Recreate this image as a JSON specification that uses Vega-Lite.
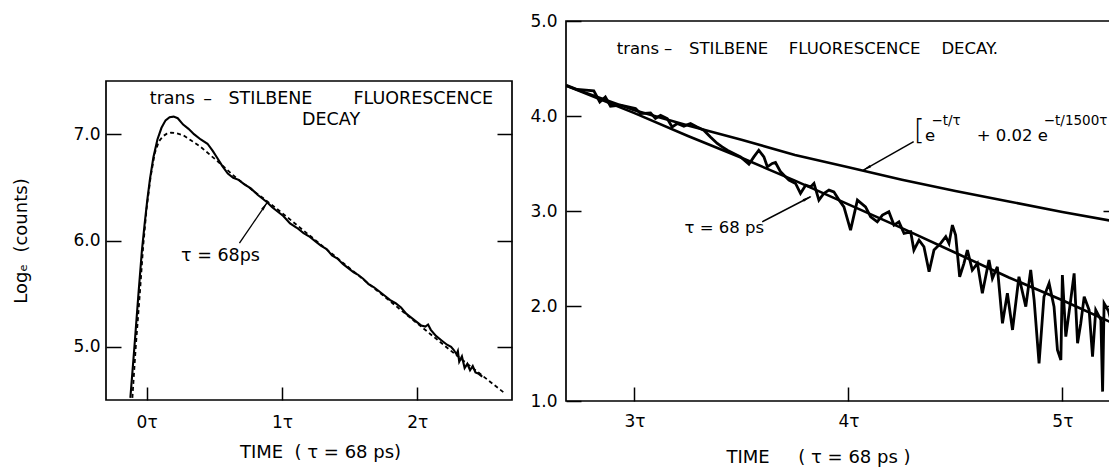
{
  "$schema": "https://vega.github.io/schema/vega-lite/v6.json",
  "padding": {"left": 12, "top": 11, "right": 0, "bottom": 0},
  "background": "white",
  "spacing": 15,
  "config": {
    "font": "DejaVu Sans",
    "view": {"stroke": "black", "strokeWidth": 1.7},
    "axis": {
      "grid": false,
      "labelFont": "DejaVu Sans",
      "labelFontSize": 17,
      "labelColor": "black",
      "titleFont": "DejaVu Sans",
      "titleFontSize": 18,
      "titleFontWeight": "normal",
      "titleColor": "black",
      "domainColor": "black",
      "domainWidth": 1.8,
      "tickColor": "black",
      "tickWidth": 1.5
    }
  },
  "datasets": {
    "spacer": [{"k": 1}],
    "leftData": [
      {"t": -0.12, "v": 4.52}, {"t": -0.09, "v": 5.0}, {"t": -0.06, "v": 5.5}, {"t": -0.035, "v": 5.9}, {"t": -0.015, "v": 6.15},
      {"t": 0.005, "v": 6.38}, {"t": 0.025, "v": 6.58}, {"t": 0.05, "v": 6.78}, {"t": 0.08, "v": 6.95}, {"t": 0.11, "v": 7.06},
      {"t": 0.14, "v": 7.13}, {"t": 0.17, "v": 7.16}, {"t": 0.2, "v": 7.165}, {"t": 0.23, "v": 7.15}, {"t": 0.27, "v": 7.09},
      {"t": 0.31, "v": 7.05}, {"t": 0.35, "v": 7.0}, {"t": 0.4, "v": 6.95}, {"t": 0.45, "v": 6.91}, {"t": 0.49, "v": 6.84},
      {"t": 0.52, "v": 6.78}, {"t": 0.56, "v": 6.7}, {"t": 0.6, "v": 6.63}, {"t": 0.64, "v": 6.59}, {"t": 0.68, "v": 6.57},
      {"t": 0.72, "v": 6.53}, {"t": 0.77, "v": 6.49}, {"t": 0.82, "v": 6.43}, {"t": 0.86, "v": 6.39}, {"t": 0.89, "v": 6.36},
      {"t": 0.93, "v": 6.31}, {"t": 0.97, "v": 6.27}, {"t": 1.01, "v": 6.23}, {"t": 1.06, "v": 6.16}, {"t": 1.11, "v": 6.12},
      {"t": 1.16, "v": 6.07}, {"t": 1.2, "v": 6.04}, {"t": 1.25, "v": 5.99}, {"t": 1.29, "v": 5.95}, {"t": 1.33, "v": 5.92},
      {"t": 1.37, "v": 5.86}, {"t": 1.41, "v": 5.83}, {"t": 1.45, "v": 5.78}, {"t": 1.49, "v": 5.74}, {"t": 1.53, "v": 5.7},
      {"t": 1.56, "v": 5.68}, {"t": 1.6, "v": 5.64}, {"t": 1.64, "v": 5.59}, {"t": 1.68, "v": 5.56}, {"t": 1.72, "v": 5.52},
      {"t": 1.76, "v": 5.48}, {"t": 1.8, "v": 5.44}, {"t": 1.84, "v": 5.41}, {"t": 1.88, "v": 5.37}, {"t": 1.92, "v": 5.31},
      {"t": 1.96, "v": 5.27}, {"t": 2.0, "v": 5.23}, {"t": 2.03, "v": 5.2}, {"t": 2.06, "v": 5.19}, {"t": 2.08, "v": 5.21},
      {"t": 2.1, "v": 5.16}, {"t": 2.14, "v": 5.1}, {"t": 2.18, "v": 5.06}, {"t": 2.22, "v": 5.02}, {"t": 2.25, "v": 5.0},
      {"t": 2.27, "v": 4.97}, {"t": 2.29, "v": 4.93}, {"t": 2.3, "v": 4.96}, {"t": 2.31, "v": 4.86}, {"t": 2.33, "v": 4.91},
      {"t": 2.35, "v": 4.8}, {"t": 2.37, "v": 4.84}, {"t": 2.39, "v": 4.78}, {"t": 2.41, "v": 4.82}, {"t": 2.43, "v": 4.76},
      {"t": 2.45, "v": 4.75}, {"t": 2.48, "v": 4.72}
    ],
    "leftFit": [
      {"t": -0.105, "v": 4.52}, {"t": -0.08, "v": 5.0}, {"t": -0.05, "v": 5.5}, {"t": -0.025, "v": 5.95}, {"t": 0.0, "v": 6.3},
      {"t": 0.03, "v": 6.6}, {"t": 0.06, "v": 6.82}, {"t": 0.09, "v": 6.93}, {"t": 0.12, "v": 6.98}, {"t": 0.15, "v": 7.005},
      {"t": 0.18, "v": 7.015}, {"t": 0.22, "v": 7.01}, {"t": 0.27, "v": 6.99}, {"t": 0.33, "v": 6.94}, {"t": 0.4, "v": 6.88},
      {"t": 0.52, "v": 6.75}, {"t": 0.67, "v": 6.58}, {"t": 0.87, "v": 6.39}, {"t": 1.0, "v": 6.26}, {"t": 1.5, "v": 5.74},
      {"t": 2.0, "v": 5.22}, {"t": 2.3, "v": 4.91}, {"t": 2.65, "v": 4.56}
    ],
    "leftArrow": [{"t": 0.686, "v": 5.975, "t2": 0.889, "v2": 6.354}],
    "leftHead": [{"t": 0.868, "v": 6.315}],
    "leftText": [
      {"t": 0.19, "v": 7.33, "label": "trans"},
      {"t": 0.45, "v": 7.33, "label": "–"},
      {"t": 0.915, "v": 7.33, "label": "STILBENE"},
      {"t": 2.044, "v": 7.33, "label": "FLUORESCENCE"},
      {"t": 1.363, "v": 7.13, "label": "DECAY"},
      {"t": 0.546, "v": 5.85, "label": "τ = 68ps"}
    ],
    "rightData": [
      {"t": 2.682, "v": 4.324}, {"t": 2.732, "v": 4.279}, {"t": 2.81, "v": 4.264}, {"t": 2.838, "v": 4.148}, {"t": 2.864, "v": 4.201},
      {"t": 2.888, "v": 4.103}, {"t": 2.935, "v": 4.114}, {"t": 3.005, "v": 4.079}, {"t": 3.028, "v": 4.026}, {"t": 3.075, "v": 4.033},
      {"t": 3.098, "v": 3.974}, {"t": 3.122, "v": 4.008}, {"t": 3.153, "v": 3.974}, {"t": 3.176, "v": 3.885}, {"t": 3.2, "v": 3.921},
      {"t": 3.231, "v": 3.893}, {"t": 3.262, "v": 3.921}, {"t": 3.293, "v": 3.885}, {"t": 3.324, "v": 3.851}, {"t": 3.355, "v": 3.78},
      {"t": 3.387, "v": 3.711}, {"t": 3.41, "v": 3.675}, {"t": 3.434, "v": 3.64}, {"t": 3.464, "v": 3.606}, {"t": 3.496, "v": 3.57},
      {"t": 3.535, "v": 3.493}, {"t": 3.558, "v": 3.57}, {"t": 3.581, "v": 3.64}, {"t": 3.605, "v": 3.57}, {"t": 3.621, "v": 3.465},
      {"t": 3.644, "v": 3.501}, {"t": 3.659, "v": 3.511}, {"t": 3.683, "v": 3.412}, {"t": 3.722, "v": 3.325}, {"t": 3.753, "v": 3.29},
      {"t": 3.776, "v": 3.185}, {"t": 3.8, "v": 3.272}, {"t": 3.823, "v": 3.254}, {"t": 3.839, "v": 3.29}, {"t": 3.862, "v": 3.115},
      {"t": 3.885, "v": 3.185}, {"t": 3.909, "v": 3.22}, {"t": 3.932, "v": 3.202}, {"t": 3.956, "v": 3.115}, {"t": 3.979, "v": 3.044},
      {"t": 4.01, "v": 2.799}, {"t": 4.042, "v": 3.115}, {"t": 4.08, "v": 3.044}, {"t": 4.104, "v": 2.939}, {"t": 4.135, "v": 2.886},
      {"t": 4.159, "v": 2.957}, {"t": 4.189, "v": 2.992}, {"t": 4.213, "v": 2.852}, {"t": 4.236, "v": 2.886}, {"t": 4.26, "v": 2.764},
      {"t": 4.291, "v": 2.781}, {"t": 4.306, "v": 2.589}, {"t": 4.33, "v": 2.694}, {"t": 4.353, "v": 2.624}, {"t": 4.377, "v": 2.361},
      {"t": 4.4, "v": 2.589}, {"t": 4.431, "v": 2.659}, {"t": 4.455, "v": 2.729}, {"t": 4.47, "v": 2.659}, {"t": 4.486, "v": 2.852},
      {"t": 4.501, "v": 2.747}, {"t": 4.52, "v": 2.308}, {"t": 4.54, "v": 2.449}, {"t": 4.556, "v": 2.589}, {"t": 4.579, "v": 2.379},
      {"t": 4.603, "v": 2.449}, {"t": 4.626, "v": 2.134}, {"t": 4.657, "v": 2.484}, {"t": 4.673, "v": 2.291}, {"t": 4.696, "v": 2.413},
      {"t": 4.72, "v": 1.818}, {"t": 4.743, "v": 2.134}, {"t": 4.767, "v": 1.748}, {"t": 4.797, "v": 2.308}, {"t": 4.829, "v": 1.993},
      {"t": 4.852, "v": 2.379}, {"t": 4.868, "v": 2.063}, {"t": 4.891, "v": 1.397}, {"t": 4.914, "v": 2.098}, {"t": 4.938, "v": 2.239},
      {"t": 4.961, "v": 1.993}, {"t": 4.977, "v": 1.537}, {"t": 4.993, "v": 1.432}, {"t": 5.0, "v": 2.326}, {"t": 5.016, "v": 1.677},
      {"t": 5.039, "v": 2.063}, {"t": 5.055, "v": 2.344}, {"t": 5.071, "v": 1.608}, {"t": 5.086, "v": 1.818}, {"t": 5.102, "v": 2.098},
      {"t": 5.125, "v": 1.958}, {"t": 5.141, "v": 1.467}, {"t": 5.156, "v": 1.958}, {"t": 5.18, "v": 1.853}, {"t": 5.188, "v": 1.099},
      {"t": 5.195, "v": 2.028}, {"t": 5.215, "v": 1.95}, {"t": 5.235, "v": 1.78}
    ],
    "rightFitSingle": [
      {"t": 2.68, "v": 4.32}, {"t": 3.0, "v": 4.03}, {"t": 3.25, "v": 3.79}, {"t": 3.5, "v": 3.56}, {"t": 3.75, "v": 3.32},
      {"t": 4.0, "v": 3.07}, {"t": 4.25, "v": 2.82}, {"t": 4.5, "v": 2.56}, {"t": 4.75, "v": 2.3}, {"t": 5.0, "v": 2.06},
      {"t": 5.22, "v": 1.835}, {"t": 5.26, "v": 1.795}
    ],
    "rightFitDouble": [
      {"t": 2.68, "v": 4.32}, {"t": 3.0, "v": 4.06}, {"t": 3.25, "v": 3.9}, {"t": 3.5, "v": 3.75}, {"t": 3.75, "v": 3.59},
      {"t": 4.0, "v": 3.46}, {"t": 4.25, "v": 3.33}, {"t": 4.5, "v": 3.21}, {"t": 4.75, "v": 3.1}, {"t": 5.0, "v": 2.99},
      {"t": 5.22, "v": 2.9}, {"t": 5.26, "v": 2.884}
    ],
    "rightArrows": [
      {"t": 4.305, "v": 3.73, "t2": 4.07, "v2": 3.43},
      {"t": 3.597, "v": 2.886, "t2": 3.823, "v2": 3.15}
    ],
    "rightHeadUpper": [{"t": 4.09, "v": 3.456}],
    "rightHeadLower": [{"t": 3.802, "v": 3.126}],
    "rightText": [
      {"t": 3.016, "v": 4.71, "label": "trans"},
      {"t": 3.157, "v": 4.71, "label": "–"},
      {"t": 3.44, "v": 4.71, "label": "STILBENE"},
      {"t": 4.029, "v": 4.71, "label": "FLUORESCENCE"},
      {"t": 4.567, "v": 4.71, "label": "DECAY."},
      {"t": 3.42, "v": 2.82, "label": "τ = 68 ps"}
    ],
    "rightFormula": [
      {"t": 4.358, "v": 3.79, "label": "e"},
      {"t": 4.6, "v": 3.79, "label": "+ 0.02 e"}
    ],
    "rightSup": [
      {"t": 4.388, "v": 3.95, "label": "−t/τ"},
      {"t": 4.913, "v": 3.95, "label": "−t/1500τ"}
    ],
    "rightBracket": [
      {"t": 4.305, "v": 3.83, "label": "["}
    ]
  },
  "hconcat": [
    {
      "spacing": 0,
      "vconcat": [
        {
          "width": 406,
          "height": 59,
          "view": {"stroke": null},
          "data": {"name": "spacer"},
          "mark": {"type": "text"},
          "encoding": {"text": {"value": ""}}
        },
        {
          "width": 406,
          "height": 319,
          "resolve": {"axis": {"x": "independent", "y": "independent"}},
          "layer": [
            {
              "data": {"name": "leftFit"},
              "mark": {"type": "line", "color": "black", "strokeWidth": 1.8, "strokeDash": [4, 3]},
              "encoding": {
                "x": {"field": "t", "type": "quantitative", "scale": {"domain": [-0.3, 2.7], "nice": false},
                  "axis": {"values": [0, 1, 2], "labelExpr": "datum.value + 'τ'", "domain": false, "tickSize": -13, "labelPadding": 27, "title": "TIME\u00a0\u00a0(\u00a0τ\u00a0=\u00a068\u00a0ps)", "titlePadding": 13, "titleX": 214}},
                "y": {"field": "v", "type": "quantitative", "scale": {"domain": [4.5, 7.5], "nice": false, "zero": false},
                  "axis": {"values": [5, 6, 7], "format": ".1f", "domain": false, "tickSize": -15, "labelPadding": 21, "title": "Logₑ\u00a0\u00a0(counts)", "titlePadding": 42}}
              }
            },
            {
              "data": {"name": "leftData"},
              "mark": {"type": "line", "color": "black", "strokeWidth": 2.1},
              "encoding": {
                "x": {"field": "t", "type": "quantitative", "axis": null},
                "y": {"field": "v", "type": "quantitative", "axis": {"orient": "right", "values": [5, 6, 7], "labels": false, "domain": false, "tickSize": -15, "title": null}}
              }
            },
            {
              "data": {"name": "leftArrow"},
              "mark": {"type": "rule", "color": "black", "strokeWidth": 1.3},
              "encoding": {
                "x": {"field": "t", "type": "quantitative", "axis": null},
                "y": {"field": "v", "type": "quantitative", "axis": null},
                "x2": {"field": "t2"},
                "y2": {"field": "v2"}
              }
            },
            {
              "data": {"name": "leftHead"},
              "mark": {"type": "point", "shape": "wedge", "filled": true, "color": "black", "size": 120, "angle": 34.5, "opacity": 1},
              "encoding": {
                "x": {"field": "t", "type": "quantitative", "axis": null},
                "y": {"field": "v", "type": "quantitative", "axis": null}
              }
            },
            {
              "data": {"name": "leftText"},
              "mark": {"type": "text", "color": "black", "fontSize": 17.5, "align": "center", "baseline": "middle"},
              "encoding": {
                "x": {"field": "t", "type": "quantitative", "axis": null},
                "y": {"field": "v", "type": "quantitative", "axis": null},
                "text": {"field": "label"}
              }
            }
          ]
        }
      ]
    },
    {
      "width": 552,
      "height": 380,
      "resolve": {"axis": {"x": "independent", "y": "independent"}},
      "layer": [
        {
          "data": {"name": "rightData"},
          "mark": {"type": "line", "color": "black", "strokeWidth": 2.8, "clip": true},
          "encoding": {
            "x": {"field": "t", "type": "quantitative", "scale": {"domain": [2.68, 5.26], "nice": false},
              "axis": {"values": [3, 4, 5], "labelExpr": "datum.value + 'τ'", "domain": false, "tickSize": -14, "labelPadding": 26, "title": "TIME\u00a0\u00a0\u00a0\u00a0\u00a0(\u00a0τ\u00a0=\u00a068\u00a0ps\u00a0)", "titlePadding": 19, "titleX": 252}},
            "y": {"field": "v", "type": "quantitative", "scale": {"domain": [1, 5], "nice": false, "zero": false},
              "axis": {"values": [1, 2, 3, 4, 5], "format": ".1f", "domain": false, "tickSize": -15, "labelPadding": 24, "title": null}}
          }
        },
        {
          "data": {"name": "rightFitDouble"},
          "mark": {"type": "line", "color": "black", "strokeWidth": 2.6, "clip": true},
          "encoding": {
            "x": {"field": "t", "type": "quantitative", "axis": null},
            "y": {"field": "v", "type": "quantitative", "axis": {"orient": "right", "values": [2, 3], "labels": false, "domain": false, "tickSize": -15, "title": null}}
          }
        },
        {
          "data": {"name": "rightFitSingle"},
          "mark": {"type": "line", "color": "black", "strokeWidth": 2.6, "clip": true},
          "encoding": {
            "x": {"field": "t", "type": "quantitative", "axis": null},
            "y": {"field": "v", "type": "quantitative", "axis": null}
          }
        },
        {
          "data": {"name": "rightArrows"},
          "mark": {"type": "rule", "color": "black", "strokeWidth": 1.5},
          "encoding": {
            "x": {"field": "t", "type": "quantitative", "axis": null},
            "y": {"field": "v", "type": "quantitative", "axis": null},
            "x2": {"field": "t2"},
            "y2": {"field": "v2"}
          }
        },
        {
          "data": {"name": "rightHeadUpper"},
          "mark": {"type": "point", "shape": "wedge", "filled": true, "color": "black", "size": 120, "angle": 240.5, "opacity": 1},
          "encoding": {
            "x": {"field": "t", "type": "quantitative", "axis": null},
            "y": {"field": "v", "type": "quantitative", "axis": null}
          }
        },
        {
          "data": {"name": "rightHeadLower"},
          "mark": {"type": "point", "shape": "wedge", "filled": true, "color": "black", "size": 120, "angle": 62.5, "opacity": 1},
          "encoding": {
            "x": {"field": "t", "type": "quantitative", "axis": null},
            "y": {"field": "v", "type": "quantitative", "axis": null}
          }
        },
        {
          "data": {"name": "rightText"},
          "mark": {"type": "text", "color": "black", "fontSize": 16.5, "align": "center", "baseline": "middle", "clip": true},
          "encoding": {
            "x": {"field": "t", "type": "quantitative", "axis": null},
            "y": {"field": "v", "type": "quantitative", "axis": null},
            "text": {"field": "label"}
          }
        },
        {
          "data": {"name": "rightFormula"},
          "mark": {"type": "text", "color": "black", "fontSize": 16.5, "align": "left", "baseline": "middle", "clip": true},
          "encoding": {
            "x": {"field": "t", "type": "quantitative", "axis": null},
            "y": {"field": "v", "type": "quantitative", "axis": null},
            "text": {"field": "label"}
          }
        },
        {
          "data": {"name": "rightSup"},
          "mark": {"type": "text", "color": "black", "fontSize": 13.5, "align": "left", "baseline": "middle", "clip": true},
          "encoding": {
            "x": {"field": "t", "type": "quantitative", "axis": null},
            "y": {"field": "v", "type": "quantitative", "axis": null},
            "text": {"field": "label"}
          }
        },
        {
          "data": {"name": "rightBracket"},
          "mark": {"type": "text", "color": "black", "fontSize": 28, "fontWeight": "lighter", "align": "left", "baseline": "middle", "clip": true},
          "encoding": {
            "x": {"field": "t", "type": "quantitative", "axis": null},
            "y": {"field": "v", "type": "quantitative", "axis": null},
            "text": {"field": "label"}
          }
        }
      ]
    }
  ]
}
